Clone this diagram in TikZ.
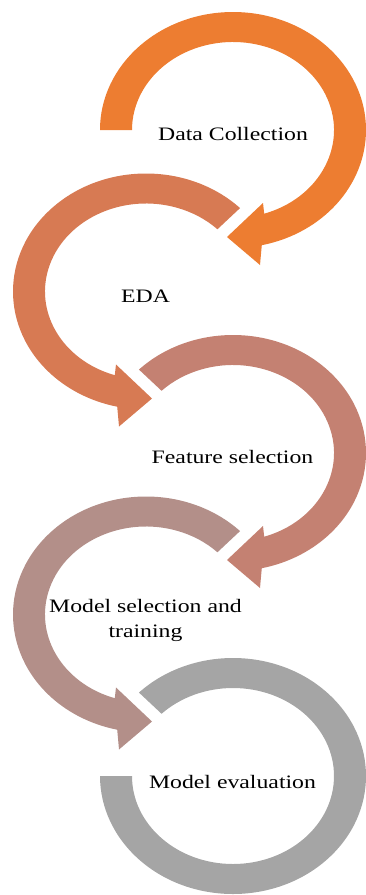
\documentclass[tikz,border=0pt]{standalone}
\usepackage{fontspec}
\setmainfont{Liberation Serif}
\definecolor{stepA}{HTML}{ED7D31}
\definecolor{stepB}{HTML}{D77A53}
\definecolor{stepC}{HTML}{C48172}
\definecolor{stepD}{HTML}{B38F89}
\definecolor{stepE}{HTML}{A5A5A5}
\newcommand\wide[1]{\scalebox{1.25}[1]{#1}}

\begin{document}
\begin{tikzpicture}[x=1pt,y=1pt,every node/.style={font=\fontsize{19}{25}\selectfont,inner sep=0pt}]
  \useasboundingbox (0,0) rectangle (366,-895);
  % right-hand arrows, head at the bottom pointing left
  \foreach \cy/\sa/\col in {130/180/stepA,453/135/stepC}{
    \fill[\col,shift={(233,-\cy)}] (\sa:133 and 118)
      arc[start angle=\sa,end angle=-77.5,x radius=133,y radius=118]
      -- (27,-135) -- (-6,-107) -- (30,-73) -- (-72:101 and 88)
      arc[start angle=-72,end angle=\sa,x radius=101,y radius=88] -- cycle;
  }
  % left-hand arrows
  \foreach \cy/\col in {291.5/stepB,614.5/stepD}{
    \fill[\col,shift={(146,-\cy)}] (45:133 and 118)
      arc[start angle=45,end angle=257.5,x radius=133,y radius=118]
      -- (-27,-135) -- (6,-107) -- (-30,-73) -- (252:101 and 88)
      arc[start angle=252,end angle=45,x radius=101,y radius=88] -- cycle;
  }
  % last ring, no head
  \fill[stepE,shift={(233,-776)}] (135:133 and 118)
    arc[start angle=135,end angle=-180,x radius=133,y radius=118]
    -- (-180:101 and 88)
    arc[start angle=-180,end angle=135,x radius=101,y radius=88] -- cycle;

  \node[anchor=base] (datacoll) at (233,-140) {\wide{Data Collection}};
  \node[anchor=base] (eda) at (145.5,-302) {\wide{EDA}};
  \node[anchor=base] (featsel) at (232.5,-463) {\wide{Feature selection}};
  \node[align=center] (modelsel) at (145.5,-620) {\wide{Model selection and}\\\wide{training}};
  \node[anchor=base] (modeleval) at (232.5,-788) {\wide{Model evaluation}};
\end{tikzpicture}
\end{document}
